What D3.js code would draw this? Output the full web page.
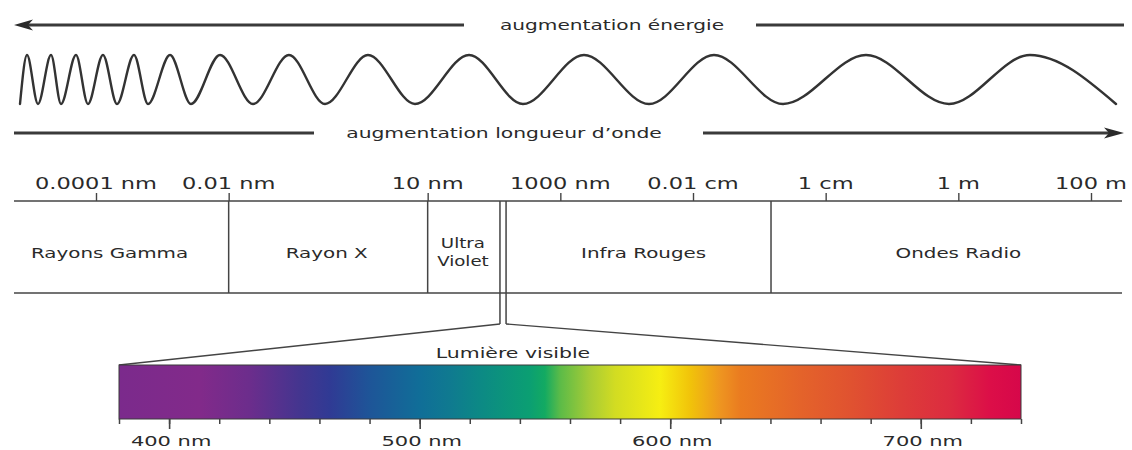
<!DOCTYPE html>
<html>
<head>
<meta charset="utf-8">
<script src="https://cdn.jsdelivr.net/npm/d3@7/dist/d3.min.js"></script>
<style>
  html, body { margin: 0; padding: 0; background: #ffffff; }
  svg { display: block; }
  text { font-family: "DejaVu Sans", "Liberation Sans", sans-serif; fill: #2a2a2a; }
</style>
</head>
<body>
<svg id="chart" width="1132" height="450"></svg>
<script>
// ---------------- DATA ----------------
// Wavelength scale (metres) and its labels
const scaleTickValues = [1e-13, 1e-11, 1e-8, 1e-6, 1e-4, 1e-2, 1, 1e2];
const scaleTickLabels = ["0.0001 nm", "0.01 nm", "10 nm", "1000 nm", "0.01 cm", "1 cm", "1 m", "100 m"];

// Band boundaries (metres) as drawn in the figure
const bandBoundaries = [1e-11, 1e-8, 1.23e-7, 1.52e-7, 1.5e-3];
const visibleBoundaryIdx = [2, 3];
const bandNames = ["Rayons Gamma", "Rayon X", "Ultra\nViolet", "Infra Rouges", "Ondes Radio"];
const bandLabelAt = [1.6e-13, 3.0e-10, 3.4e-8, 1.8e-5, 1.0];

// Wave illustration: extrema along the band (0 = left end, 1 = right end), +1 crest / -1 trough
const waveExtremaPos = [0, 0.0064, 0.0164, 0.0283, 0.0374, 0.0511, 0.0620, 0.0757, 0.0885, 0.1040, 0.1168,
  0.1369, 0.1560, 0.1825, 0.2126, 0.2454, 0.2783, 0.3175, 0.3604, 0.4097, 0.4589, 0.5146, 0.5739, 0.6332,
  0.6962, 0.7719, 0.8476, 0.9215, 1];
const waveExtremaVal = [-1, 1, -1, 1, -1, 1, -1, 1, -1, 1, -1, 1, -1, 1, -1, 1, -1, 1, -1, 1, -1, 1, -1, 1,
  -1, 1, -1, 1, -1];

// Visible light spectrum (nm)
const visibleDomain = [380, 740];
const visibleTicks = [380, 400, 420, 440, 460, 480, 500, 520, 540, 560, 580, 600, 620, 640, 660, 680, 700, 720, 740];
const visibleMajorTicks = [400, 500, 600, 700];
const visibleMajorLabels = ["400 nm", "500 nm", "600 nm", "700 nm"];
const spectrumStopNm = [380, 412, 432, 452, 464, 480, 500, 512, 524, 544, 550, 556, 568, 578, 596, 608, 620, 628, 652, 672, 692, 712, 728, 740];
const spectrumStopColor = ["#7b2a8c", "#822a8a", "#6c2d8c", "#44358f", "#303a94", "#1e5598", "#106e98", "#0f7a90",
  "#0c8985", "#0b9f72", "#13aa62", "#5bbb48", "#a8cc35", "#d2dc22", "#f6ee12", "#f1c30a", "#ee9520", "#ea7b20",
  "#e4632a", "#e05230", "#dd3d38", "#dc2b40", "#dc0e48", "#d6074a"];

// Text
const topArrowText = "augmentation énergie";
const bottomArrowText = "augmentation longueur d’onde";
const visibleTitle = "Lumière visible";

// ---------------- LAYOUT ----------------
const svg = d3.select("#chart");
const lineLeft = 14, lineRight = 1122;
const bandTop = 201, bandBottom = 293, junctionY = 324;
const barTop = 365, barBottom = 419;

const logX = d3.scaleLog().domain([1e-13, 1e2]).range([96, 1091]);
const nmX = d3.scaleLinear().domain(visibleDomain).range([119, 1021]);
const waveX = d3.scaleLinear().domain([0, 1]).range([20, 1116]);
const waveY = d3.scaleLinear().domain([-1, 1]).range([104, 55]);

function stretched(g, x, y, txt, size, sx, weight) {
  return g.append("text")
    .attr("transform", `translate(${x},${y}) scale(${sx},1)`)
    .attr("text-anchor", "middle")
    .attr("font-size", size)
    .attr("font-weight", weight || "normal")
    .text(txt);
}

// ---- top arrow: increasing energy (pointing left)
const energyG = svg.append("g");
energyG.append("line").attr("x1", lineLeft + 8).attr("x2", 464).attr("y1", 25).attr("y2", 25)
  .attr("stroke", "#3a3a3a").attr("stroke-width", 3);
energyG.append("line").attr("x1", 756).attr("x2", 1124).attr("y1", 25).attr("y2", 25)
  .attr("stroke", "#3a3a3a").attr("stroke-width", 3);
energyG.append("path").attr("d", `M${lineLeft},25 L${lineLeft + 19},19.5 L${lineLeft + 14},25 L${lineLeft + 19},30.5 Z`)
  .attr("fill", "#2a2a2a");
stretched(energyG, 612, 30, topArrowText, 14, 1.44);

// ---- wave
const wavePts = waveExtremaPos.map((p, i) => [waveX(p), waveY(waveExtremaVal[i])]);
svg.append("path")
  .attr("d", d3.line().curve(d3.curveMonotoneX)(wavePts))
  .attr("fill", "none").attr("stroke", "#333").attr("stroke-width", 2.4)
  .attr("stroke-linejoin", "round").attr("stroke-linecap", "round");

// ---- bottom arrow: increasing wavelength (pointing right)
const lengthG = svg.append("g");
lengthG.append("line").attr("x1", lineLeft).attr("x2", 314).attr("y1", 133).attr("y2", 133)
  .attr("stroke", "#3a3a3a").attr("stroke-width", 3);
lengthG.append("line").attr("x1", 703).attr("x2", 1110).attr("y1", 133).attr("y2", 133)
  .attr("stroke", "#3a3a3a").attr("stroke-width", 3);
lengthG.append("path").attr("d", `M1124,133 L1104,127.5 L1109,133 L1104,138.5 Z`).attr("fill", "#2a2a2a");
stretched(lengthG, 504, 138, bottomArrowText, 14, 1.45);

// ---- wavelength scale
const scaleG = svg.append("g");
const axisG = scaleG.append("g").attr("transform", `translate(0,${bandTop})`)
  .call(d3.axisTop(logX).tickValues(scaleTickValues).tickSize(8).tickFormat(""));
axisG.select(".domain").remove();
axisG.selectAll(".tick line").attr("stroke", "#444").attr("stroke-width", 1.4);
scaleTickValues.forEach((v, i) => stretched(scaleG, logX(v), 189, scaleTickLabels[i], 15, 1.5));

// band box lines
scaleG.append("line").attr("x1", lineLeft).attr("x2", lineRight).attr("y1", bandTop).attr("y2", bandTop)
  .attr("stroke", "#444").attr("stroke-width", 1.5);
scaleG.append("line").attr("x1", lineLeft).attr("x2", lineRight).attr("y1", bandBottom).attr("y2", bandBottom)
  .attr("stroke", "#444").attr("stroke-width", 1.5);
bandBoundaries.forEach((b, i) => {
  const isVis = visibleBoundaryIdx.includes(i);
  scaleG.append("line")
    .attr("x1", logX(b)).attr("x2", logX(b))
    .attr("y1", bandTop).attr("y2", isVis ? junctionY : bandBottom)
    .attr("stroke", "#444").attr("stroke-width", 1.5);
});
bandNames.forEach((name, i) => {
  const x = logX(bandLabelAt[i]);
  const lines = name.split("\n");
  if (lines.length === 1) {
    stretched(scaleG, x, 258, name, 14, 1.42);
  } else {
    stretched(scaleG, x, 248, lines[0], 14, 1.3);
    stretched(scaleG, x, 266, lines[1], 14, 1.3);
  }
});

// ---- connectors to visible spectrum
const vx0 = logX(bandBoundaries[visibleBoundaryIdx[0]]);
const vx1 = logX(bandBoundaries[visibleBoundaryIdx[1]]);
svg.append("path").attr("d", `M${vx0},${junctionY} L${nmX(visibleDomain[0])},${barTop}`)
  .attr("fill", "none").attr("stroke", "#444").attr("stroke-width", 1.4);
svg.append("path").attr("d", `M${vx1},${junctionY} L${nmX(visibleDomain[1])},${barTop}`)
  .attr("fill", "none").attr("stroke", "#444").attr("stroke-width", 1.4);
stretched(svg, 513, 358, visibleTitle, 14, 1.46);

// ---- visible spectrum bar
const defs = svg.append("defs");
const grad = defs.append("linearGradient").attr("id", "spec")
  .attr("gradientUnits", "userSpaceOnUse")
  .attr("x1", nmX(visibleDomain[0])).attr("x2", nmX(visibleDomain[1])).attr("y1", 0).attr("y2", 0);
spectrumStopNm.forEach((nm, i) => {
  grad.append("stop")
    .attr("offset", (nmX(nm) - nmX(visibleDomain[0])) / (nmX(visibleDomain[1]) - nmX(visibleDomain[0])))
    .attr("stop-color", spectrumStopColor[i]);
});
svg.append("rect")
  .attr("x", nmX(visibleDomain[0])).attr("y", barTop)
  .attr("width", nmX(visibleDomain[1]) - nmX(visibleDomain[0])).attr("height", barBottom - barTop)
  .attr("fill", "url(#spec)").attr("stroke", "#3a3a3a").attr("stroke-width", 1);

const visAxis = svg.append("g").attr("transform", `translate(0,${barBottom})`)
  .call(d3.axisBottom(nmX).tickValues(visibleTicks).tickSize(5).tickFormat(""));
visAxis.select(".domain").remove();
visAxis.selectAll(".tick line").attr("stroke", "#444").attr("stroke-width", 1.5);
const visMajor = svg.append("g").attr("transform", `translate(0,${barBottom})`)
  .call(d3.axisBottom(nmX).tickValues(visibleMajorTicks).tickSize(10).tickFormat(""));
visMajor.select(".domain").remove();
visMajor.selectAll(".tick line").attr("stroke", "#444").attr("stroke-width", 1.6);
visibleMajorTicks.forEach((v, i) => stretched(svg, nmX(v) + 2, 446, visibleMajorLabels[i], 14, 1.5));
</script>
</body>
</html>
